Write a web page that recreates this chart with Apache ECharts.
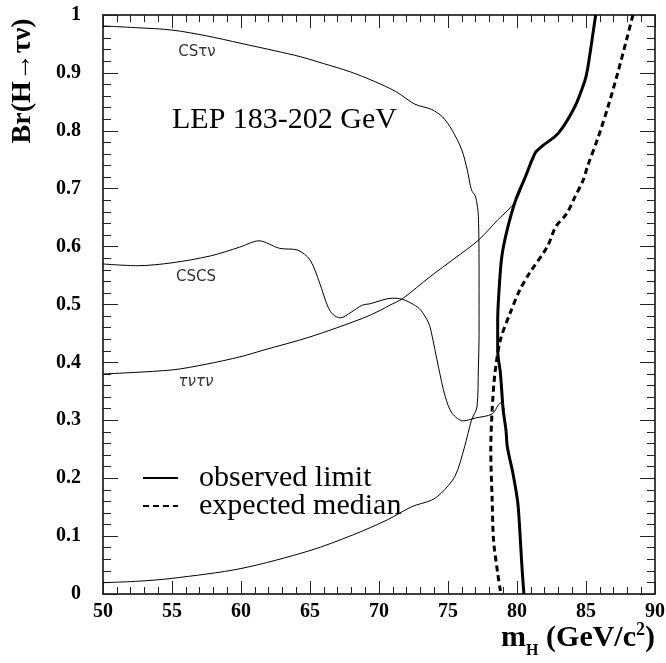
<!DOCTYPE html>
<html>
<head>
<meta charset="utf-8">
<script src="https://cdn.jsdelivr.net/npm/echarts@6/dist/echarts.min.js"></script>
<style>html,body{margin:0;padding:0;background:#fff}#c{width:666px;height:663px}</style>
</head>
<body>
<div id="c"></div>
<script>
// ---- data (m_H in GeV/c^2, Br(H->tau nu)) ----
const xTicks = [50, 55, 60, 65, 70, 75, 80, 85, 90];
const yTicks = [0, 0.1, 0.2, 0.3, 0.4, 0.5, 0.6, 0.7, 0.8, 0.9, 1];

const csTauNuMass = [50, 52.5, 55, 57.5, 60, 62.5, 64.3, 66, 67.9, 69.7, 71.2, 72.6, 73.8, 74.6, 75.3, 76.0, 76.4, 76.7, 77.0, 77.2, 77.25, 77.25, 77.2, 77.1, 76.7, 76.2, 75.5, 74.5, 73.8, 72.4, 70.6, 68.1, 65, 60, 55, 52.5, 50];
const csTauNuBr   = [0.981, 0.978, 0.974, 0.964, 0.951, 0.938, 0.928, 0.916, 0.902, 0.885, 0.868, 0.846, 0.837, 0.824, 0.801, 0.767, 0.732, 0.698, 0.686, 0.652, 0.55, 0.45, 0.39, 0.323, 0.30, 0.254, 0.203, 0.174, 0.162, 0.151, 0.128, 0.102, 0.075, 0.044, 0.027, 0.022, 0.0196];

const cscsMass = [50, 52.5, 55, 57.8, 59.9, 61.3, 62.8, 64.1, 65, 65.7, 66.3, 66.7, 67.2, 68, 68.8, 69.3, 71.0, 71.7, 72.5, 73.0, 73.6, 73.8, 74.3, 74.8, 75.3, 76.1, 77.0, 78.2, 78.8, 79.1];
const cscsBr   = [0.570, 0.567, 0.572, 0.584, 0.599, 0.610, 0.597, 0.594, 0.577, 0.537, 0.496, 0.482, 0.477, 0.487, 0.499, 0.501, 0.511, 0.509, 0.500, 0.491, 0.468, 0.451, 0.393, 0.341, 0.312, 0.299, 0.304, 0.311, 0.33, 0.318];

const tauTauMass = [50, 55, 57.5, 60, 61.6, 65, 68.8, 70.1, 70.8, 71.7, 73.7, 75.5, 77.2, 78.6, 79.9, 80.6, 81.3];
const tauTauBr   = [0.380, 0.387, 0.397, 0.41, 0.421, 0.444, 0.476, 0.49, 0.499, 0.51, 0.548, 0.580, 0.611, 0.646, 0.678, 0.72, 0.757];

const observedMass = [85.7, 85.4, 85.1, 84.9, 84.2, 83.0, 81.8, 81.3, 80.6, 79.9, 79.3, 78.9, 78.7, 78.6, 78.6, 78.8, 79.0, 79.2, 79.3, 79.7, 80.05, 80.2, 80.35, 80.5];
const observedBr   = [1.0, 0.951, 0.905, 0.885, 0.842, 0.796, 0.773, 0.761, 0.72, 0.68, 0.63, 0.583, 0.525, 0.473, 0.421, 0.381, 0.318, 0.283, 0.254, 0.209, 0.159, 0.111, 0.05, 0.0];

const expectedMass = [88.4, 88.0, 87.3, 86.6, 85.9, 85.1, 84.8, 84.2, 83.6, 82.8, 82.2, 80.9, 80.2, 79.5, 78.8, 78.4, 78.2, 78.1, 78.2, 78.3, 78.6, 78.8];
const expectedBr   = [1.0, 0.963, 0.90, 0.842, 0.79, 0.738, 0.715, 0.686, 0.657, 0.634, 0.6, 0.554, 0.525, 0.485, 0.439, 0.381, 0.318, 0.249, 0.162, 0.093, 0.036, 0.005];

const zip = (a, b) => a.map((v, i) => [v, b[i]]);

const SERIF = '"Liberation Serif", "Times New Roman", serif';
const SANS = '"DejaVu Sans", sans-serif';

const chart = echarts.init(document.getElementById('c'), null, {renderer: 'canvas'});

function axisParts(major, minor) {
  return {
    axisLine: {show: true, onZero: false, lineStyle: {color: '#000', width: 1.5}},
    axisTick: {show: true, inside: true, length: major, lineStyle: {color: '#222', width: 1}},
    minorTick: {show: true, splitNumber: 5, length: minor, lineStyle: {color: '#222', width: 1}},
    splitLine: {show: false},
    minorSplitLine: {show: false}
  };
}

const thin = {color: '#000', width: 1};

chart.setOption({
  animation: false,
  backgroundColor: '#fff',
  grid: {left: 103, right: 11, top: 15, bottom: 69, containLabel: false, outerBoundsMode: 'none'},
  legend: {
    orient: 'vertical', left: 137, top: 458,
    itemWidth: 35, itemHeight: 14, itemGap: -2,
    itemStyle: {opacity: 0},
    data: ['observed limit', 'expected median'],
    textStyle: {fontFamily: SERIF, fontSize: 30, color: '#000', padding: [0, 0, 0, 16]}
  },
  xAxis: [
    Object.assign({
      type: 'value', min: xTicks[0], max: xTicks[xTicks.length - 1], interval: 5, position: 'bottom',
      axisLabel: {show: true, margin: 8, fontFamily: SERIF, fontWeight: 'bold', fontSize: 20, color: '#000'}
    }, axisParts(13, 7)),
    Object.assign({
      type: 'value', min: xTicks[0], max: xTicks[xTicks.length - 1], interval: 5, position: 'top',
      axisLabel: {show: false}
    }, axisParts(13, 7))
  ],
  yAxis: [
    Object.assign({
      type: 'value', min: yTicks[0], max: yTicks[yTicks.length - 1], interval: 0.1, position: 'left',
      axisLabel: {show: true, margin: 22, fontFamily: SERIF, fontWeight: 'bold', fontSize: 20, color: '#000'}
    }, axisParts(15, 8)),
    Object.assign({
      type: 'value', min: yTicks[0], max: yTicks[yTicks.length - 1], interval: 0.1, position: 'right',
      axisLabel: {show: false}
    }, axisParts(15, 8))
  ],
  graphic: [
    {type: 'text', x: 655, y: 621, style: {
      text: '{m|m}{sub|H}{n| (GeV/c}{sup|2}{n|)}', align: 'right', verticalAlign: 'top',
      rich: {
        m: {fontFamily: SERIF, fontWeight: 'bold', fontSize: 30, fill: '#000', lineHeight: 32, verticalAlign: 'bottom'},
        n: {fontFamily: SERIF, fontWeight: 'bold', fontSize: 30, fill: '#000', lineHeight: 32, verticalAlign: 'bottom'},
        sub: {fontFamily: SERIF, fontWeight: 'bold', fontSize: 16, fill: '#000', lineHeight: 16, verticalAlign: 'bottom', padding: [0, 0, -6, 0]},
        sup: {fontFamily: SERIF, fontWeight: 'bold', fontSize: 18, fill: '#000', lineHeight: 18, verticalAlign: 'top'}
      }
    }},
    {type: 'text', x: 23, y: 81, rotation: Math.PI / 2, style: {text: 'Br(H\u2192\u03C4\u03BD)', font: 'bold 28px ' + SERIF, fill: '#000', align: 'center', verticalAlign: 'middle'}},
    {type: 'text', x: 172, y: 120, style: {text: 'LEP 183-202 GeV', font: '30px ' + SERIF, fill: '#000', align: 'left', verticalAlign: 'middle'}},
    {type: 'text', x: 197, y: 52, style: {text: 'CS\u03C4\u03BD', font: '15px ' + SANS, fill: '#333', align: 'center', verticalAlign: 'middle'}},
    {type: 'text', x: 196, y: 277, style: {text: 'CSCS', font: '15px ' + SANS, fill: '#333', align: 'center', verticalAlign: 'middle'}},
    {type: 'text', x: 196, y: 382, style: {text: '\u03C4\u03BD\u03C4\u03BD', font: 'italic 15px ' + SANS, fill: '#333', align: 'center', verticalAlign: 'middle'}}
  ],
  series: [
    {name: 'CS\u03C4\u03BD', type: 'line', data: zip(csTauNuMass, csTauNuBr), symbol: 'none', smooth: 0.3, lineStyle: thin, clip: true, z: 2},
    {name: 'CSCS', type: 'line', data: zip(cscsMass, cscsBr), symbol: 'none', smooth: 0.3, lineStyle: thin, clip: true, z: 2},
    {name: '\u03C4\u03BD\u03C4\u03BD', type: 'line', data: zip(tauTauMass, tauTauBr), symbol: 'none', smooth: 0.3, lineStyle: thin, clip: true, z: 2},
    {name: 'observed limit', type: 'line', data: zip(observedMass, observedBr), symbol: 'none', smooth: 0.3,
      lineStyle: {color: '#000', width: 3}, itemStyle: {color: '#000'}, clip: true, z: 3},
    {name: 'expected median', type: 'line', data: zip(expectedMass, expectedBr), symbol: 'none', smooth: 0.3,
      lineStyle: {color: '#000', width: 3, type: [6, 4]}, itemStyle: {color: '#000'}, clip: true, z: 3}
  ]
});
</script>
</body>
</html>
